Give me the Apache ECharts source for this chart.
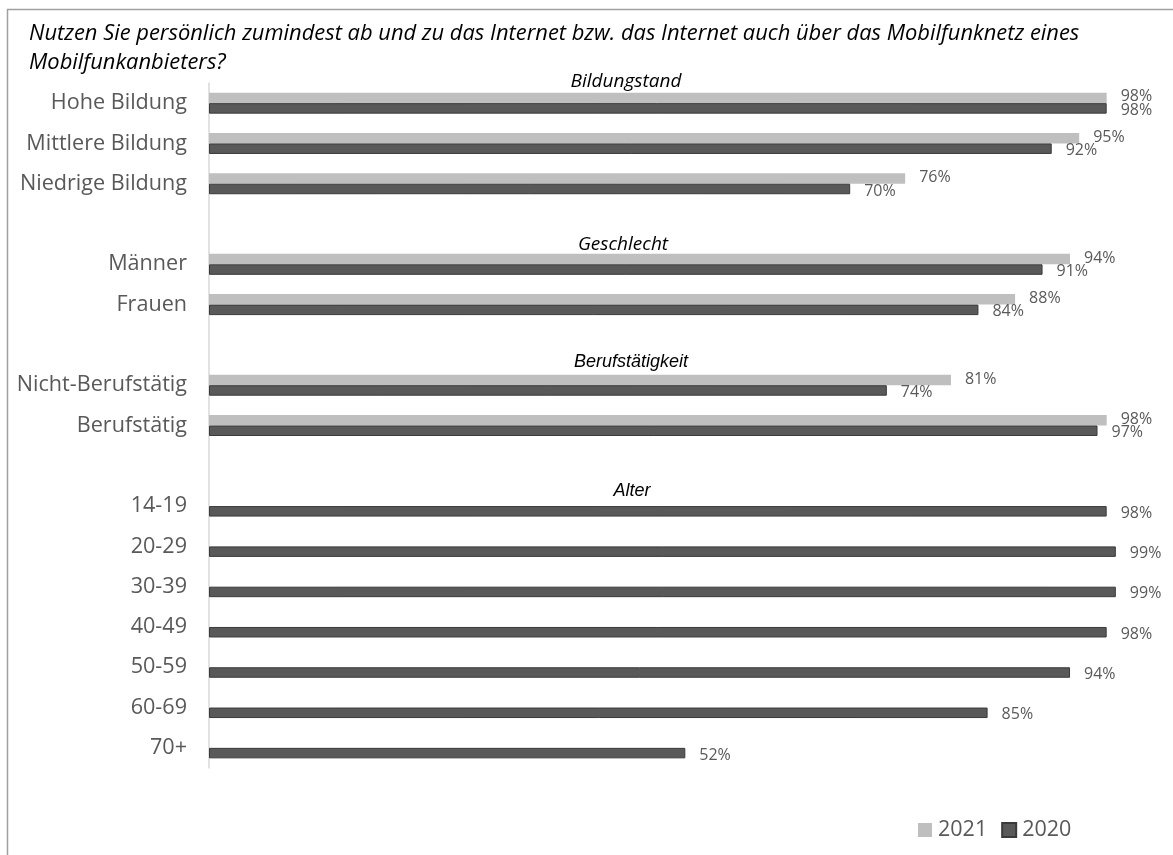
<!DOCTYPE html>
<html><head><meta charset="utf-8">
<script src="https://cdn.jsdelivr.net/npm/echarts@6/dist/echarts.min.js"></script>
<style>html,body{margin:0;padding:0;background:#fff}#c{width:1173px;height:855px}</style>
</head><body><div id="c"></div>
<script>
const categories = ['Hohe Bildung','Mittlere Bildung','Niedrige Bildung',' ','Männer','Frauen','  ','Nicht-Berufstätig','Berufstätig','   ','14-19','20-29','30-39','40-49','50-59','60-69','70+'];
const values2021 = [98,95,76,null,94,88,null,81,98,null,null,null,null,null,null,null,null];
const values2020 = [98,92,70,null,91,84,null,74,97,null,98,99,99,98,94,85,52];
const seriesNames = ['2021','2020'];
const titleText = 'Nutzen Sie persönlich zumindest ab und zu das Internet bzw. das Internet auch über das Mobilfunknetz eines\nMobilfunkanbieters?';
const groupTitles = ['Bildungstand','Geschlecht','Berufstätigkeit','Alter'];

const chart = echarts.init(document.getElementById('c'));
const font = '"Open Sans", "Noto Sans", sans-serif';
const arial = '"Liberation Sans", Arial, sans-serif';
const labelCfg = {show:true, position:'right', distance:14, formatter:'{c}%', color:'#595959', fontSize:16, fontFamily:font};
const groupPos = [[626,82],[623,245],[631,362],[632,491]];
const groupFonts = [font, font, arial, arial];
chart.setOption({
  animation:false,
  backgroundColor:'#fff',
  textStyle:{fontFamily:font},
  graphic:[
    {type:'rect', shape:{x:7.5,y:9.5,width:1300,height:1000}, style:{fill:'none', stroke:'#a0a0a0', lineWidth:1.5}, silent:true},
    {type:'text', left:29, top:19, style:{text:titleText, fontFamily:font, fontStyle:'italic', fontSize:21.9, lineHeight:29, fill:'#000'}}
  ].concat(groupTitles.map((t,i)=>({type:'text', x:groupPos[i][0], y:groupPos[i][1], style:{text:t, fontFamily:groupFonts[i], fontStyle:'italic', fontSize:i<2?19:18, fill:'#000', align:'center', verticalAlign:'middle'}}))),
  legend:{data:seriesNames, left:913, top:814, itemWidth:14, itemHeight:14, itemGap:14, icon:'rect',
    textStyle:{fontSize:21.5, color:'#595959', fontFamily:font, padding:[0,0,0,1]}},
  grid:{left:209, right:48, top:83, bottom:87, containLabel:false},
  xAxis:{type:'value', min:0, max:100, show:false},
  yAxis:{type:'category', data:categories, inverse:true,
    axisLine:{show:true, lineStyle:{color:'#d9d9d9', width:1.5}},
    axisTick:{show:false},
    axisLabel:{fontSize:21.6, color:'#595959', fontFamily:font, margin:22}},
  series:[
    {name:seriesNames[0], type:'bar', data:values2021, barWidth:10.5, barGap:'0%',
      itemStyle:{color:'#bfbfbf'}, label:Object.assign({}, labelCfg, {offset:[0,-1]})},
    {name:seriesNames[1], type:'bar', data:values2020, barWidth:10.5, barGap:'0%',
      itemStyle:{color:'#595959', borderColor:'#3a3a3a', borderWidth:1}, label:Object.assign({}, labelCfg, {offset:[0,2]})}
  ]
});
</script></body></html>
